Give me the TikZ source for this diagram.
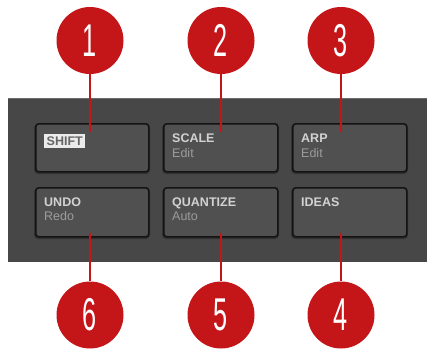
\documentclass[tikz,border=0pt]{standalone}
\usepackage{fontspec}
\setmainfont{Liberation Sans}
\usepackage{graphicx}
\definecolor{nired}{HTML}{C41519}
\definecolor{panel}{HTML}{474747}
\definecolor{panelhi}{HTML}{6A6A6A}
\definecolor{btn}{HTML}{505050}
\definecolor{btnedge}{HTML}{141414}
\definecolor{lblmain}{HTML}{D2D2D2}
\definecolor{lblsub}{HTML}{9C9C9C}
\tikzset{
  padbtn/.style={draw=btnedge, line width=1.6pt, fill=btn, rounded corners=3pt},
  padshadow/.style={fill=black!30!panel, rounded corners=4pt},
  callout/.style={circle, fill=nired, minimum size=67pt, inner sep=0pt, text=white},
  leader/.style={draw=nired, line width=2.6pt},
  mainlbl/.style={anchor=base west, inner sep=0pt, text=lblmain, font=\fontsize{12.5}{13}\selectfont\bfseries},
  sublbl/.style={anchor=base west, inner sep=0pt, text=lblsub, font=\fontsize{12.5}{13}\selectfont},
  shiftlbl/.style={anchor=base west, fill=white!92!black, text=black!60, inner xsep=2.5pt, inner ysep=2.5pt, font=\fontsize{12.5}{13}\selectfont\bfseries}
}
\newcommand{\numtxt}[1]{\scalebox{0.55}[1]{\fontsize{46}{46}\selectfont #1}}
\begin{document}
\begin{tikzpicture}[x=1pt,y=-1pt]
\useasboundingbox (0,0) rectangle (427,350);
\fill[white] (0,0) rectangle (427,350);
% panel
\fill[panel] (8,98) rectangle (427,262);
\draw[panelhi, line width=1.2pt] (8,98.6) -- (427,98.6);
% button shadows
\foreach \x/\w in {35/113,163/114,292/114}{
  \fill[padshadow] (\x-1,124) rectangle ++(\w+3,50);
  \fill[padshadow] (\x-1,188) rectangle ++(\w+3,51);
}
% buttons
\node[padbtn, minimum width=113pt, minimum height=48pt, anchor=north west] (b1) at (35,123) {};
\node[padbtn, minimum width=114pt, minimum height=48pt, anchor=north west] (b2) at (163,123) {};
\node[padbtn, minimum width=114pt, minimum height=48pt, anchor=north west] (b3) at (292,123) {};
\node[padbtn, minimum width=113pt, minimum height=49pt, anchor=north west] (b6) at (35,187) {};
\node[padbtn, minimum width=114pt, minimum height=49pt, anchor=north west] (b5) at (163,187) {};
\node[padbtn, minimum width=114pt, minimum height=49pt, anchor=north west] (b4) at (292,187) {};
% labels
\node[shiftlbl] (t1) at (44,145) {SHIFT};
\node[mainlbl] (t2) at (172,142) {SCALE};
\node[sublbl] (s2) at (172,157) {Edit};
\node[mainlbl] (t3) at (301,142) {ARP};
\node[sublbl] (s3) at (301,157) {Edit};
\node[mainlbl] (t6) at (44,206) {UNDO};
\node[sublbl] (s6) at (44,220) {Redo};
\node[mainlbl] (t5) at (172,206) {QUANTIZE};
\node[sublbl] (s5) at (172,220) {Auto};
\node[mainlbl] (t4) at (301,206) {IDEAS};
% callouts
\node[callout] (c1) at (90,40.5) {\numtxt{1}};
\node[callout] (c2) at (221,40.5) {\numtxt{2}};
\node[callout] (c3) at (341,40.5) {\numtxt{3}};
\node[callout] (c6) at (90,315) {\numtxt{6}};
\node[callout] (c5) at (221,315) {\numtxt{5}};
\node[callout] (c4) at (341,315) {\numtxt{4}};
% leader end points
\coordinate (e1) at (90,132);
\coordinate (e2) at (221,132);
\coordinate (e3) at (341,132);
\coordinate (e6) at (90,233);
\coordinate (e5) at (221,233);
\coordinate (e4) at (341,233);
\draw[leader] (c1.south) -- (e1);
\draw[leader] (c2.south) -- (e2);
\draw[leader] (c3.south) -- (e3);
\draw[leader] (c6.north) -- (e6);
\draw[leader] (c5.north) -- (e5);
\draw[leader] (c4.north) -- (e4);
\end{tikzpicture}
\end{document}
